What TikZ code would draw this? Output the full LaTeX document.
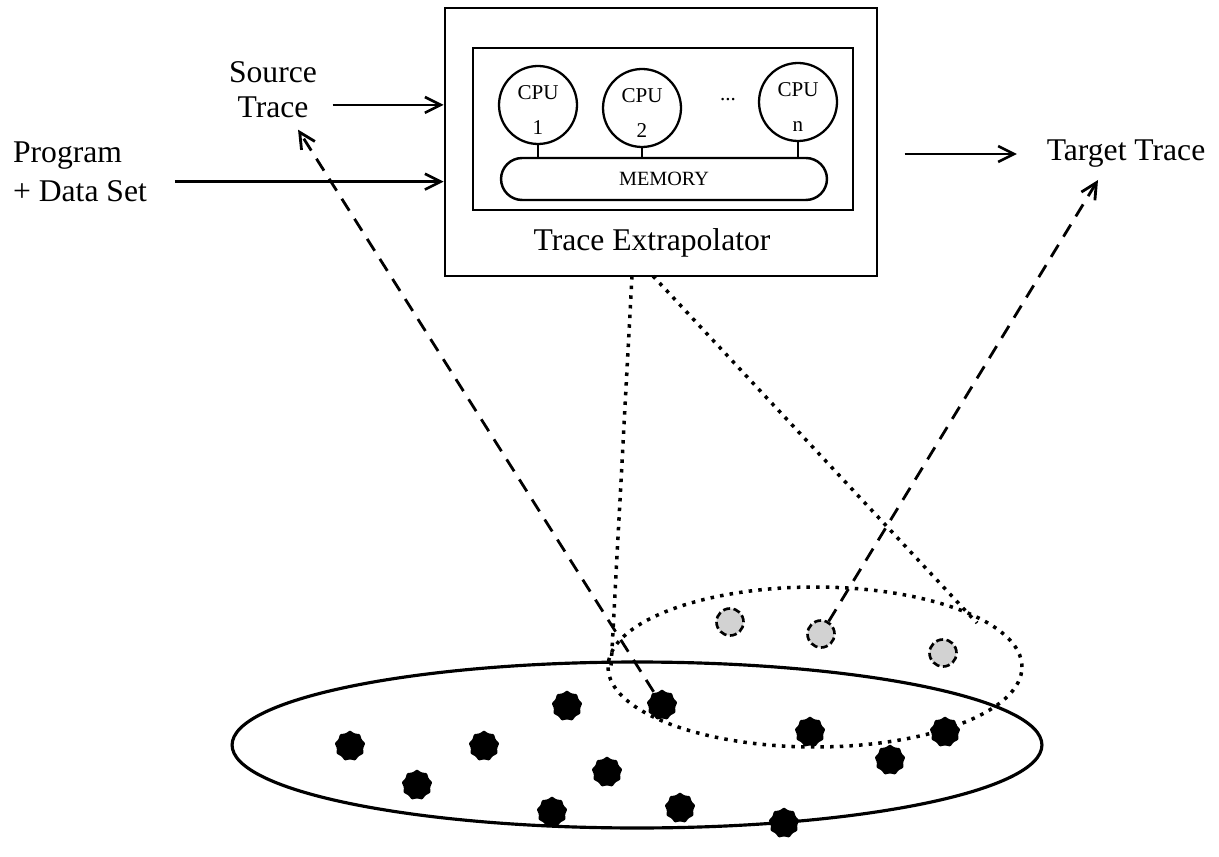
\documentclass[tikz,border=0pt]{standalone}
\usepackage{fontspec}
\setmainfont{Liberation Serif}
\usetikzlibrary{arrows.meta,shapes.geometric,positioning}

\begin{document}
\begin{tikzpicture}[x=0.02cm,y=-0.02cm,>={Straight Barb[length=9pt,width=9pt]},line width=1.3pt,
    box/.style={draw, line width=1.6pt, inner sep=0pt},
    cpu/.style={circle, draw, line width=1.3pt, minimum size=1.56cm, inner sep=0pt, align=center, font=\fontsize{12}{20}\selectfont},
    big/.style={font=\fontsize{18}{20}\selectfont},
    hit/.style={star, star points=9, star point ratio=1.16, rounded corners=0.5pt, fill=black, minimum size=0.62cm, inner sep=0pt},
    miss/.style={circle, draw, line width=1.5pt, dash pattern=on 4pt off 2pt, fill=gray!35, minimum size=0.54cm, inner sep=0pt},
    trace/.style={->, line width=1.6pt, dash pattern=on 8pt off 5.5pt},
    cone/.style={line width=2pt, dash pattern=on 2pt off 3.5pt}]
    \useasboundingbox (0,0) rectangle (1219,857);

    % trace extrapolator
    \node[box, minimum width=8.64cm, minimum height=5.36cm] (extrap) at (661,142) {};
    \node[box, minimum width=7.6cm, minimum height=3.24cm] (inner) at (663,129) {};
    \node[box, line width=1.4pt, rounded corners=12pt, minimum width=6.52cm, minimum height=0.84cm, font=\fontsize{11.5}{14}\selectfont] (mem) at (664,179) {MEMORY};
    \node[cpu] (cpu1) at (538,105) {\strut CPU\\1};
    \node[cpu] (cpu2) at (642,108) {\strut CPU\\2};
    \node[cpu] (cpun) at (798,102) {\strut CPU\\n};
    \node[font=\fontsize{12}{14}\selectfont] (dots) at (728,100) {...};
    \node[big] (lbl) at (652,243) {Trace Extrapolator};

    % inputs and output
    \node[big, align=center] (src) at (273,90) {Source\\Trace};
    \node[big, align=left] (prog) at (80,172) {Program\\[2pt]+ Data Set};
    \node[big] (tgt) at (1126,154) {Target Trace};

    % populations
    \node[ellipse, draw, line width=1.8pt, minimum width=16.2cm, minimum height=3.32cm] (pop) at (637,745) {};
    \node[ellipse, draw, cone, minimum width=8.28cm, minimum height=3.2cm] (sample) at (815,667) {};

    \node[hit] (d1) at (350,746) {};
    \node[hit] (d2) at (417,785) {};
    \node[hit] (d3) at (484,746) {};
    \node[hit] (d4) at (567,706) {};
    \node[hit] (d5) at (552,812) {};
    \node[hit] (d6) at (607,772) {};
    \node[hit] (d7) at (662,705) {};
    \node[hit] (d8) at (680,808) {};
    \node[hit] (d9) at (784,823) {};
    \node[hit] (d10) at (810,732) {};
    \node[hit] (d11) at (890,760) {};
    \node[hit] (d12) at (945,732) {};
    \node[miss] (g1) at (730,622) {};
    \node[miss] (g2) at (821,634) {};
    \node[miss] (g3) at (943,653) {};

    \coordinate (c1) at (632,276);
    \coordinate (c2) at (653,276);
    \coordinate (t1) at (611,668);
    \coordinate (t2) at (977,623);
    \coordinate (tt) at (1098,180);

    % connectors
    \draw (cpu1.south) -- (cpu1.south |- mem.north);
    \draw (cpu2.south) -- (cpu2.south |- mem.north);
    \draw (cpun.south) -- (cpun.south |- mem.north);
    \draw[->, line width=1.5pt, shorten <=5pt] ([yshift=-8.5pt]src.east) -- ([yshift=-8.5pt]src.east -| extrap.west);
    \draw[->, line width=1.5pt, shorten <=12pt] ([yshift=-5.5pt]prog.east) -- ([yshift=-5.5pt]prog.east -| extrap.west);
    \draw[->, line width=1.5pt, shorten <=15pt, shorten >=13pt] (extrap.east |- tgt.west) -- (tgt.west);
    \draw[cone] (c1) -- (t1);
    \draw[cone] (c2) -- (t2);
    \draw[trace, shorten >=3pt] (d7) -- (src);
    \draw[trace] (g2) -- (tt);
\end{tikzpicture}
\end{document}
